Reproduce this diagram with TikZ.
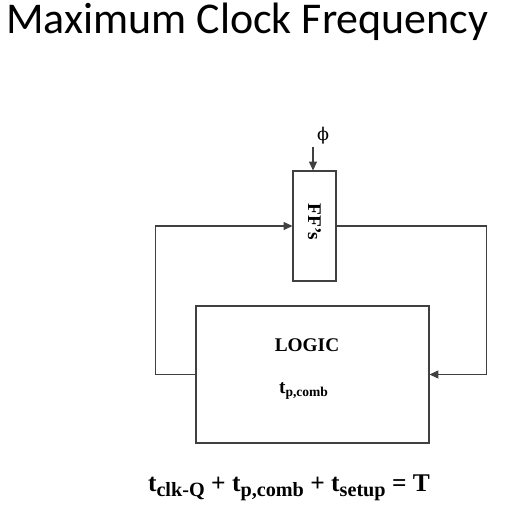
\documentclass[tikz,border=0pt]{standalone}
\usepackage{fontspec}
\setmainfont{Liberation Serif}
\newfontfamily\titlefont{Carlito}
\newfontfamily\phifont{DejaVu Serif}
\usetikzlibrary{arrows.meta, positioning}

% lowered subscript for the timing equation
\newcommand{\tsub}[1]{\raisebox{-0.45ex}{\fontsize{11.5}{13}\selectfont #1}}

\begin{document}
\begin{tikzpicture}[x=0.02cm, y=-0.02cm,
    block/.style={draw=black!75, line width=0.6pt, inner sep=0pt},
    wire/.style={draw=black!75, line width=0.6pt},
    arr/.style={wire, -{Triangle[length=5pt, width=4.5pt]}},
    lbl/.style={font=\fontsize{11}{13}\selectfont\bfseries}]
  \useasboundingbox (0,0) rectangle (511,514);

  % title
  \node[anchor=base west, inner sep=0pt, font=\titlefont\fontsize{25}{30}\selectfont]
    (title) at (6,33) {Maximum Clock Frequency};

  % flip-flops and logic
  \node[block, minimum width=0.86cm, minimum height=2.2cm] (ff) at (314.5,226) {};
  \node[lbl, rotate=-90] (fflbl) at (314.5,222) {FF's};
  \node[block, minimum width=4.66cm, minimum height=2.74cm] (logic) at (312.5,374.5) {};
  \node[lbl] (logiclbl) at (307,345) {LOGIC};
  \node[lbl] (tpcomb) at (304,391) {t\textsubscript{p,comb}};

  % clock input
  \coordinate (clk) at (313,147);
  \node[font=\phifont\fontsize{10}{12}\selectfont, inner sep=0pt] (phi) at (323,136) {ϕ};
  \draw[arr] (clk) -- (clk |- ff.north);

  % feedback loop
  \draw[arr] (logic.west) -- ++(-40,0) |- (ff.west);
  \draw[arr] (ff.east) -- ++(150,0) |- (logic.east);

  % timing equation
  \node[anchor=base, inner sep=0pt, font=\fontsize{14.5}{18}\selectfont\bfseries] (eqn) at (289,491)
    {t\tsub{clk-Q} + t\tsub{p,comb} + t\tsub{setup} = T};
\end{tikzpicture}
\end{document}
